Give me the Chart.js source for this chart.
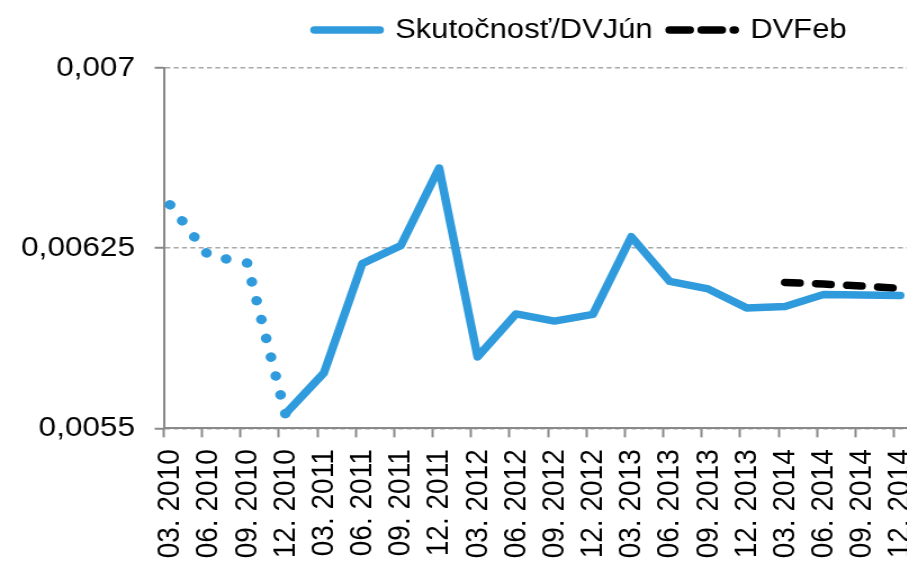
<!DOCTYPE html>
<html lang="sk">
<head>
<meta charset="utf-8">
<title>Skutočnosť/DVJún a DVFeb</title>
<script src="https://cdn.jsdelivr.net/npm/chart.js@4.4.1/dist/chart.umd.min.js"></script>
<style>
    html, body { margin: 0; padding: 0; background: #fff; overflow: hidden; }
    /* the chart is drawn narrow and stretched sideways */
    #chart { display: block; transform: scaleX(1.125); transform-origin: 0 0; }
</style>
</head>
<body>
<canvas id="chart" width="806" height="568"></canvas>
<script>
var quarters = [
    "03. 2010", "06. 2010", "09. 2010", "12. 2010",
    "03. 2011", "06. 2011", "09. 2011", "12. 2011",
    "03. 2012", "06. 2012", "09. 2012", "12. 2012",
    "03. 2013", "06. 2013", "09. 2013", "12. 2013",
    "03. 2014", "06. 2014", "09. 2014", "12. 2014",
];

var skutocnost = [
    0.00643, 0.006218, 0.006189, 0.00556,
    0.00573, 0.006185, 0.00626, 0.006583,
    0.005797, 0.005976, 0.005946, 0.005974,
    0.006297, 0.006111, 0.00608, 0.006001,
    0.006007, 0.006057, 0.006055, 0.006053,
];

var dvFeb = [
    null, null, null, null,
    null, null, null, null,
    null, null, null, null,
    null, null, null, null,
    0.006107, 0.0061, 0.006092, 0.006082,
];

var yTicks = [0.0055, 0.00625, 0.007];
var yTickLabels = ["0,0055", "0,00625", "0,007"];

var blue = "#2f9bdc";
var axisGray = "#898989";
var gridGray = "#a8a8a8";

// first four quarters are an estimate, drawn dotted
var DOTTED_UNTIL = 3;

// x is months since March 2010, each value sits mid-month
function toPoints(values) {
    return values.map(function (v, i) {
        return { x: i * 3 + 0.5, y: v };
    });
}

// legend sits right of centre and close to the top edge
var moveLegend = {
    id: "moveLegend",
    afterLayout: function (chart) {
        var legend = chart.legend;
        legend.left += 113;
        legend.right += 113;
        legend.top -= 14;
        legend.bottom -= 14;
    },
};

Chart.defaults.font.family = '"Liberation Sans", Arial, Helvetica, sans-serif';
Chart.defaults.font.size = 28;
Chart.defaults.color = "#000";

const ctx = document.getElementById("chart").getContext("2d");
const myChart = new Chart(ctx, {
    type: "line",
    plugins: [moveLegend],
    data: {
        datasets: [
            {
                label: "Skutočnosť/DVJún",
                data: toPoints(skutocnost),
                borderColor: blue,
                backgroundColor: blue,
                borderWidth: 7.5,
                borderCapStyle: "round",
                borderJoinStyle: "round",
                pointRadius: 0,
                pointHoverRadius: 0,
                segment: {
                    borderDash: function (c) {
                        return c.p1DataIndex <= DOTTED_UNTIL ? [0.1, 19.2] : undefined;
                    },
                    borderWidth: function (c) {
                        return c.p1DataIndex <= DOTTED_UNTIL ? 9.5 : undefined;
                    },
                },
            },
            {
                label: "DVFeb",
                data: toPoints(dvFeb),
                borderColor: "#000",
                backgroundColor: "#000",
                borderWidth: 7.5,
                borderDash: [13, 14.6],
                borderCapStyle: "round",
                pointRadius: 0,
                pointHoverRadius: 0,
            },
        ],
    },
    options: {
        responsive: false,
        animation: false,
        events: [],
        layout: {
            padding: { top: 15.3, left: 0, right: 0, bottom: 0 },
        },
        plugins: {
            tooltip: { enabled: false },
            legend: {
                position: "top",
                labels: {
                    usePointStyle: true,
                    pointStyle: "line",
                    pointStyleWidth: 58,
                    padding: 15,
                    color: "#000",
                    font: { size: 27.5 },
                    generateLabels: function (chart) {
                        var items = Chart.defaults.plugins.legend.labels.generateLabels(chart);
                        items.forEach(function (item) {
                            item.lineCap = "round";
                        });
                        items[1].lineDash = [18, 10.5];
                        return items;
                    },
                },
            },
        },
        scales: {
            x: {
                type: "linear",
                min: 0,
                max: 58,
                afterBuildTicks: function (scale) {
                    scale.ticks = quarters.map(function (q, i) {
                        return { value: i * 3 };
                    });
                },
                afterFit: function (scale) {
                    scale.height = 139.7;
                    scale.paddingLeft = 0;
                    scale.paddingRight = 0;
                },
                grid: {
                    drawOnChartArea: false,
                    drawTicks: true,
                    tickLength: 9,
                    tickColor: axisGray,
                    tickWidth: 2,
                    color: axisGray,
                },
                border: { color: axisGray, width: 2 },
                ticks: {
                    autoSkip: false,
                    minRotation: 90,
                    maxRotation: 90,
                    padding: 12,
                    labelOffset: 6,
                    color: "#000",
                    font: { size: 28 },
                    callback: function (value, index) {
                        return quarters[index];
                    },
                },
            },
            y: {
                min: 0.0055,
                max: 0.007,
                afterBuildTicks: function (scale) {
                    scale.ticks = yTicks.map(function (v) {
                        return { value: v };
                    });
                },
                afterFit: function (scale) {
                    scale.width = 145.5;
                },
                grid: {
                    color: gridGray,
                    lineWidth: 1.5,
                    tickColor: axisGray,
                    tickWidth: 2,
                    tickLength: 8,
                    tickBorderDash: [],
                },
                border: { color: axisGray, width: 2, dash: [4.4, 3] },
                ticks: {
                    padding: 17.5,
                    color: "#000",
                    font: { size: 28 },
                    callback: function (value, index) {
                        return yTickLabels[index];
                    },
                },
            },
        },
    },
});
</script>
</body>
</html>
